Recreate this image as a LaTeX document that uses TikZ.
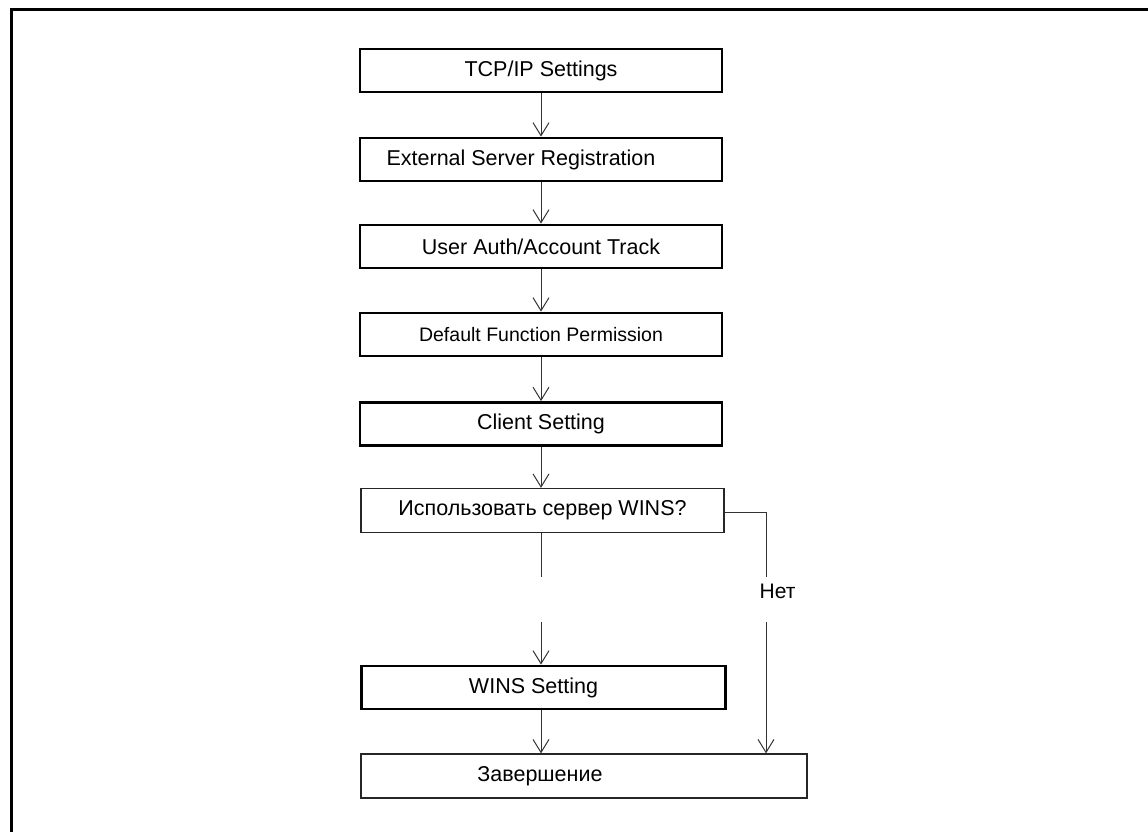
\documentclass[tikz,border=0pt]{standalone}
\usepackage{fontspec}
\setmainfont{Liberation Sans}
\usetikzlibrary{arrows.meta}
\newcommand{\padr}[1]{\rule{#1}{0pt}}
\tikzset{
  every picture/.style={x=1pt,y=-1pt},
  thickbox/.style={draw=black, line width=2.8pt, fill=white, inner sep=0pt, minimum height=43pt, font=\fontsize{21.5}{24}\selectfont},
  thinbox/.style={draw=black!85, line width=1.3pt, fill=white, inner sep=0pt, minimum height=44pt, font=\fontsize{21.5}{24}\selectfont},
  conn/.style={draw=black!80, line width=1pt},
  arr/.style={conn, -{Straight Barb[length=13pt,width=16pt,line width=1pt]}},
  lbl/.style={inner sep=0pt, font=\fontsize{21}{24}\selectfont}
}
\begin{document}
\begin{tikzpicture}
\useasboundingbox (0,0) rectangle (1148,832);
% frame (top and left edges only)
\draw[line width=3pt, line cap=butt] (1148,10) -- (11,10) -- (11,832);

\node[thickbox, minimum width=362pt] (tcp) at (541,70.5) {TCP/IP Settings};
\node[thickbox, minimum width=362pt] (ext) at (541,159.5) {External Server Registration\padr{40pt}};
\node[thickbox, minimum width=362pt] (uat) at (541,246.5) {User Auth/Account Track};
\node[thickbox, minimum width=362pt, font=\fontsize{19.5}{22}\selectfont] (dfp) at (541,334.5) {Default Function Permission};
\node[thickbox, minimum width=362pt] (cli) at (541,424) {Client Setting};
\node[thinbox, minimum width=363pt] (dec) at (542.5,510.5) {Использовать сервер WINS?};
\node[thickbox, minimum width=364pt] (wins) at (543.5,687.5) {WINS Setting\padr{20pt}};
\node[thinbox, minimum width=446pt] (fin) at (584,776) {Завершение\padr{88pt}};

\coordinate (d1) at (541,577);
\coordinate (d2) at (541,622);
\coordinate (r0) at (766,512);
\coordinate (r1) at (766,577);
\coordinate (r2) at (766,622);
\coordinate (r3) at (766,754);
\node[lbl] (no) at (777.5,591) {Нет};

\draw[arr] (tcp.south -| 541,0) -- (ext.north -| 541,0);
\draw[arr] (ext.south -| 541,0) -- (uat.north -| 541,0);
\draw[arr] (uat.south -| 541,0) -- (dfp.north -| 541,0);
\draw[arr] (dfp.south -| 541,0) -- (cli.north -| 541,0);
\draw[arr] (cli.south -| 541,0) -- (dec.north -| 541,0);
\draw[conn] (dec.south -| d1) -- (d1);
\draw[arr] (d2) -- (wins.north -| d2);
\draw[arr] (wins.south -| d2) -- (fin.north -| d2);
\draw[conn] (dec.east |- r0) -- (r0) -- (r1);
\draw[arr] (r2) -- (fin.north -| r3);
\end{tikzpicture}
\end{document}
